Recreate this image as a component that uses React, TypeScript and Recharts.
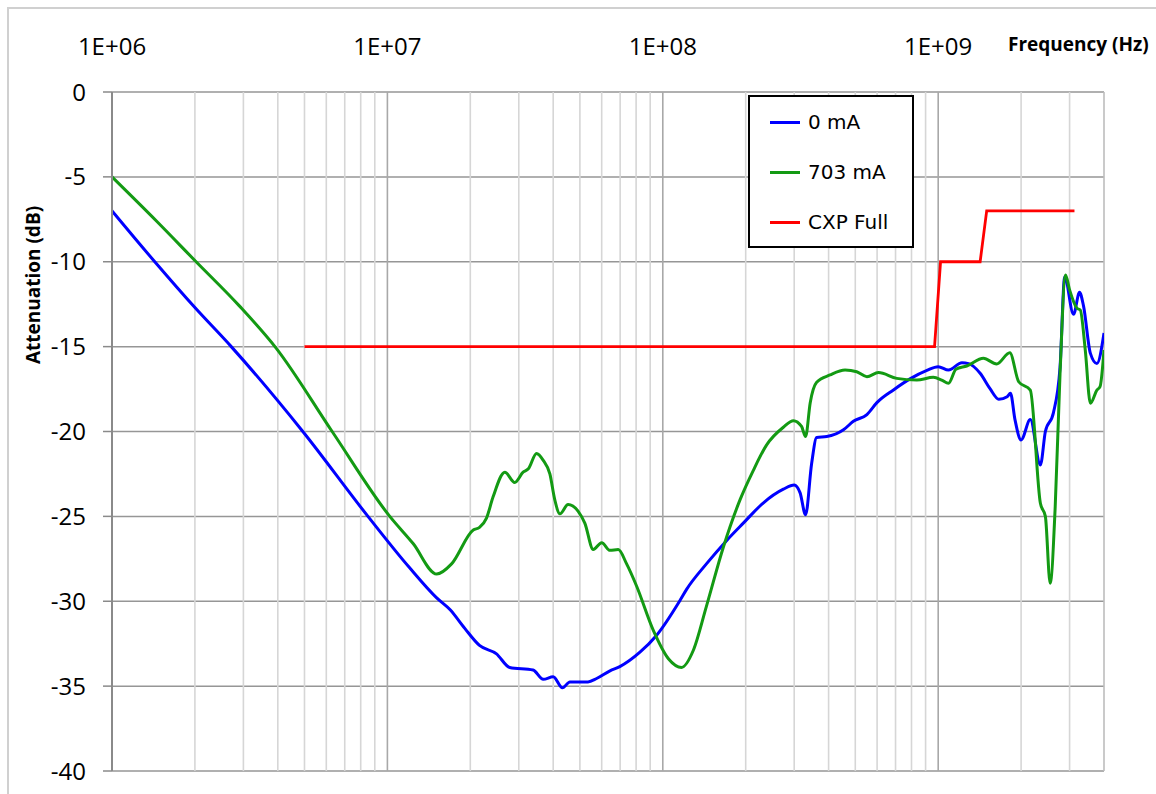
import { LineChart, Line, XAxis, YAxis, CartesianGrid, ReferenceLine, Legend } from 'recharts';

// frequency (Hz) / attenuation (dB)
const attenuation0mA = [
  { f: 1e6, db: -7.0 }, { f: 1.43e6, db: -10.0 }, { f: 2.0e6, db: -12.7 }, { f: 2.71e6, db: -15.0 },
  { f: 4.93e6, db: -20.0 }, { f: 8.5e6, db: -25.0 }, { f: 1.2e7, db: -28.0 }, { f: 1.51e7, db: -29.8 },
  { f: 1.69e7, db: -30.5 }, { f: 1.91e7, db: -31.6 }, { f: 2.16e7, db: -32.6 }, { f: 2.49e7, db: -33.1 },
  { f: 2.78e7, db: -33.9 }, { f: 3.38e7, db: -34.05 }, { f: 3.68e7, db: -34.6 }, { f: 4.0e7, db: -34.45 },
  { f: 4.32e7, db: -35.1 }, { f: 4.6e7, db: -34.75 }, { f: 5.35e7, db: -34.75 }, { f: 5.75e7, db: -34.55 },
  { f: 6.43e7, db: -34.1 }, { f: 6.98e7, db: -33.85 }, { f: 8.26e7, db: -33.0 }, { f: 9.5e7, db: -32.0 },
  { f: 1.15e8, db: -30.0 }, { f: 1.22e8, db: -29.3 }, { f: 1.44e8, db: -27.8 }, { f: 1.71e8, db: -26.4 },
  { f: 1.96e8, db: -25.4 }, { f: 2.32e8, db: -24.2 }, { f: 2.74e8, db: -23.4 }, { f: 3.0e8, db: -23.15 },
  { f: 3.15e8, db: -23.6 }, { f: 3.3e8, db: -24.9 }, { f: 3.47e8, db: -21.9 }, { f: 3.62e8, db: -20.35 },
  { f: 3.94e8, db: -20.3 }, { f: 4.53e8, db: -19.9 }, { f: 4.92e8, db: -19.4 }, { f: 5.51e8, db: -19.0 },
  { f: 5.99e8, db: -18.3 }, { f: 6.88e8, db: -17.55 }, { f: 7.9e8, db: -16.9 }, { f: 9.1e8, db: -16.4 },
  { f: 1.0e9, db: -16.18 }, { f: 1.09e9, db: -16.38 }, { f: 1.22e9, db: -15.95 }, { f: 1.29e9, db: -16.0 },
  { f: 1.42e9, db: -16.57 }, { f: 1.54e9, db: -17.46 }, { f: 1.66e9, db: -18.1 }, { f: 1.78e9, db: -17.95 },
  { f: 1.83e9, db: -17.75 }, { f: 1.9e9, db: -19.3 }, { f: 2.0e9, db: -20.5 }, { f: 2.16e9, db: -19.3 },
  { f: 2.35e9, db: -21.97 }, { f: 2.45e9, db: -20.0 }, { f: 2.62e9, db: -18.9 }, { f: 2.77e9, db: -16.2 },
  { f: 2.88e9, db: -10.9 }, { f: 3.1e9, db: -13.1 }, { f: 3.26e9, db: -11.8 }, { f: 3.37e9, db: -12.6 },
  { f: 3.57e9, db: -15.4 }, { f: 3.77e9, db: -16.0 }, { f: 4.0e9, db: -14.2 },
];

const attenuation703mA = [
  { f: 1e6, db: -5.0 }, { f: 1.45e6, db: -7.6 }, { f: 2.02e6, db: -10.0 }, { f: 2.9e6, db: -12.6 },
  { f: 3.95e6, db: -15.1 }, { f: 6.3e6, db: -20.0 },
  { f: 1.02e7, db: -25.0 }, { f: 1.24e7, db: -26.6 }, { f: 1.51e7, db: -28.4 }, { f: 1.71e7, db: -27.8 },
  { f: 2.05e7, db: -25.8 }, { f: 2.16e7, db: -25.65 }, { f: 2.29e7, db: -25.1 }, { f: 2.42e7, db: -23.85 },
  { f: 2.67e7, db: -22.4 }, { f: 2.9e7, db: -23.0 }, { f: 3.11e7, db: -22.4 }, { f: 3.25e7, db: -22.2 },
  { f: 3.48e7, db: -21.3 }, { f: 3.68e7, db: -21.7 }, { f: 3.89e7, db: -22.5 }, { f: 4.05e7, db: -24.0 },
  { f: 4.23e7, db: -24.85 }, { f: 4.53e7, db: -24.3 }, { f: 4.93e7, db: -24.7 }, { f: 5.21e7, db: -25.4 },
  { f: 5.59e7, db: -26.95 }, { f: 6.0e7, db: -26.55 }, { f: 6.43e7, db: -27.0 }, { f: 6.89e7, db: -26.95 },
  { f: 7.39e7, db: -27.8 }, { f: 8.03e7, db: -29.1 }, { f: 9.23e7, db: -31.7 }, { f: 1.05e8, db: -33.4 },
  { f: 1.17e8, db: -33.9 }, { f: 1.29e8, db: -32.9 }, { f: 1.44e8, db: -30.3 }, { f: 1.66e8, db: -26.8 },
  { f: 1.91e8, db: -24.0 }, { f: 2.13e8, db: -22.3 }, { f: 2.38e8, db: -20.8 }, { f: 2.74e8, db: -19.75 },
  { f: 2.98e8, db: -19.36 }, { f: 3.19e8, db: -19.7 }, { f: 3.3e8, db: -20.3 }, { f: 3.43e8, db: -18.3 },
  { f: 3.62e8, db: -17.1 }, { f: 4.05e8, db: -16.67 }, { f: 4.59e8, db: -16.38 }, { f: 5.06e8, db: -16.48 },
  { f: 5.51e8, db: -16.77 }, { f: 6.07e8, db: -16.53 }, { f: 7.07e8, db: -16.87 }, { f: 8.36e8, db: -16.97 },
  { f: 9.6e8, db: -16.81 }, { f: 1.03e9, db: -16.97 }, { f: 1.09e9, db: -17.16 }, { f: 1.16e9, db: -16.33 },
  { f: 1.27e9, db: -16.14 }, { f: 1.46e9, db: -15.69 }, { f: 1.63e9, db: -16.02 }, { f: 1.82e9, db: -15.36 },
  { f: 1.96e9, db: -17.07 }, { f: 2.16e9, db: -17.56 }, { f: 2.35e9, db: -24.23 }, { f: 2.45e9, db: -25.0 },
  { f: 2.55e9, db: -28.94 }, { f: 2.66e9, db: -24.43 }, { f: 2.77e9, db: -16.57 }, { f: 2.9e9, db: -10.78 },
  { f: 3.0e9, db: -11.66 }, { f: 3.19e9, db: -12.74 }, { f: 3.28e9, db: -12.84 }, { f: 3.42e9, db: -15.2 },
  { f: 3.57e9, db: -18.34 }, { f: 3.77e9, db: -17.56 }, { f: 3.87e9, db: -17.36 }, { f: 4.0e9, db: -15.2 },
];

const cxpFullLimit = [
  { f: 5e6, db: -15 }, { f: 9.7e8, db: -15 }, { f: 1.02e9, db: -10 }, { f: 1.42e9, db: -10 },
  { f: 1.5e9, db: -7 }, { f: 3.125e9, db: -7 },
];

const decadeTicks = [1e6, 1e7, 1e8, 1e9];
const minorGrid = [
  2e6, 3e6, 4e6, 5e6, 6e6, 7e6, 8e6, 9e6,
  2e7, 3e7, 4e7, 5e7, 6e7, 7e7, 8e7, 9e7,
  2e8, 3e8, 4e8, 5e8, 6e8, 7e8, 8e8, 9e8,
  2e9, 3e9,
];
const yTicks = [-40, -35, -30, -25, -20, -15, -10, -5, 0];

const FONT = '"Open Sans", sans-serif';

const formatExp = (v: number) => '1E+' + String(Math.round(Math.log10(v))).padStart(2, '0');

const TopTick = (props: any) => {
  const { x, y, payload } = props;
  return (
    <text x={x} y={y - 37} textAnchor="middle" fontFamily={FONT} fontSize={24} fill="#000">
      {formatExp(payload.value)}
    </text>
  );
};

const LegendBox = (props: any) => {
  const { payload = [] } = props;
  return (
    <div
      style={{
        width: 166,
        height: 153,
        boxSizing: 'border-box',
        border: '2px solid #000',
        background: '#fff',
        fontFamily: '"DejaVu Sans", sans-serif',
        fontSize: 20,
        color: '#000',
      }}
    >
      {payload.map((entry: any) => (
        <div key={entry.value} style={{ height: 50, display: 'flex', alignItems: 'center' }}>
          <span style={{ marginLeft: 20, width: 30, height: 3, background: entry.color, display: 'inline-block' }} />
          <span style={{ marginLeft: 8 }}>{entry.value}</span>
        </div>
      ))}
    </div>
  );
};

const YTitle = (props: any) => {
  const { viewBox } = props;
  const cx = viewBox.x + 35;
  const cy = viewBox.y + 193;
  return (
    <text
      transform={`translate(${cx}, ${cy}) rotate(-90)`}
      textAnchor="middle"
      dominantBaseline="middle"
      fontFamily={FONT}
      fontWeight={700}
      fontSize={19}
      fill="#000"
    >
      Attenuation (dB)
    </text>
  );
};

export default function App() {
  return (
    <div style={{ position: 'absolute', left: 0, top: 0, width: 1156, height: 794, overflow: 'hidden', background: '#fff' }}>
      <div style={{ position: 'absolute', left: 7, top: 7, width: 1200, height: 900, border: '2px solid #d0d0d0' }} />
      <div
        style={{
          position: 'absolute',
          left: 1008,
          top: 32,
          fontFamily: FONT,
          fontWeight: 700,
          fontSize: 19,
          lineHeight: '24px',
          color: '#000',
          whiteSpace: 'nowrap',
        }}
      >
        Frequency (Hz)
      </div>
      <div style={{ position: 'absolute', left: 0, top: 0 }}>
        <LineChart width={1156} height={794} margin={{ top: 32, right: 52, bottom: 23, left: 0 }}>
          <CartesianGrid vertical={false} stroke="#969696" strokeWidth={1.5} />
          {minorGrid.map((v) => (
            <ReferenceLine key={'m' + v} x={v} stroke="#d6d6d6" strokeWidth={1.6} />
          ))}
          {decadeTicks.map((v) => (
            <ReferenceLine key={'d' + v} x={v} stroke="#a8a8a8" strokeWidth={1.6} />
          ))}
          <ReferenceLine x={4e9} stroke="#bdbdbd" strokeWidth={1.6} />
          <XAxis
            dataKey="f"
            type="number"
            scale="log"
            domain={[1e6, 4e9]}
            allowDataOverflow
            orientation="top"
            ticks={decadeTicks}
            interval={0}
            height={60}
            axisLine={false}
            tickLine={false}
            tickSize={0}
            tickMargin={0}
            tick={<TopTick />}
          />
          <YAxis
            type="number"
            domain={[-40, 0]}
            ticks={yTicks}
            interval={0}
            width={112}
            tickSize={9}
            tickMargin={17}
            axisLine={{ stroke: '#8a8a8a', strokeWidth: 2 }}
            tickLine={{ stroke: '#8a8a8a', strokeWidth: 1.5 }}
            tick={{ fill: '#000', fontSize: 24, fontFamily: FONT }}
            label={<YTitle />}
          />
          <Legend
            layout="vertical"
            align="center"
            verticalAlign="middle"
            content={<LegendBox />}
            wrapperStyle={{ position: 'absolute', left: 748, top: 95, width: 166, height: 153 }}
          />
          <Line
            data={attenuation0mA}
            dataKey="db"
            name="0 mA"
            type="monotone"
            stroke="#0000ff"
            strokeWidth={3}
            dot={false}
            isAnimationActive={false}
          />
          <Line
            data={attenuation703mA}
            dataKey="db"
            name="703 mA"
            type="monotone"
            stroke="#139a13"
            strokeWidth={3}
            dot={false}
            isAnimationActive={false}
          />
          <Line
            data={cxpFullLimit}
            dataKey="db"
            name="CXP Full"
            type="linear"
            stroke="#ff0000"
            strokeWidth={2.8}
            dot={false}
            isAnimationActive={false}
          />
        </LineChart>
      </div>
    </div>
  );
}
